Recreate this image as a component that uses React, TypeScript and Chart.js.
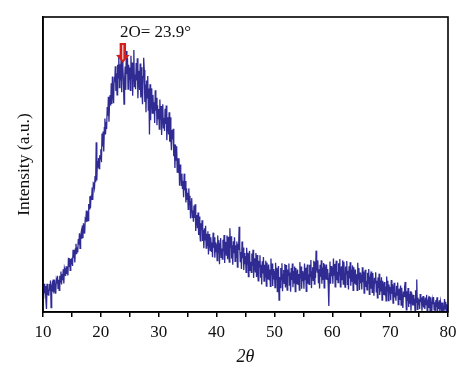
import React, { useEffect, useRef } from "react";
import { Chart, registerables } from "chart.js";

Chart.register(...registerables);

// Sampling grid of the diffractogram (degrees 2θ)
const angleStart = 10;
const angleStep = 0.1;

// Intensity (a.u.), one row per degree (10° ... 79.9°, then 80°)
const intensity: number[] = [
  7.7, 4.5, 9.6, 6.4, 8.8, 4.1, 1.0, 9.6, 5.7, 7.6,
  5.5, 9.5, 7.2, 10.7, 1.5, 8.5, 9.5, 6.9, 11.0, 6.3,
  10.9, 7.8, 6.2, 10.7, 9.7, 12.3, 8.0, 10.9, 7.3, 12.3,
  10.1, 13.7, 9.3, 12.9, 10.8, 14.5, 9.7, 14.8, 13.9, 12.2,
  15.5, 12.9, 15.3, 12.4, 18.4, 15.5, 18.2, 14.1, 18.0, 16.3,
  18.4, 15.6, 21.1, 18.3, 21.1, 16.8, 21.4, 23.1, 19.6, 21.9,
  20.2, 24.7, 22.8, 26.7, 21.6, 25.5, 26.9, 24.8, 29.3, 25.0,
  30.1, 27.6, 26.6, 31.6, 31.2, 34.4, 30.6, 34.1, 31.0, 36.6,
  35.0, 39.2, 35.3, 39.5, 38.0, 42.2, 38.0, 43.7, 43.4, 42.2,
  46.1, 44.0, 57.5, 44.6, 51.2, 48.9, 52.2, 48.6, 53.1, 51.9,
  55.2, 50.8, 60.5, 56.1, 61.2, 54.4, 62.5, 65.6, 60.2, 64.4,
  62.0, 69.5, 66.5, 73.0, 64.5, 71.0, 73.5, 70.0, 77.5, 70.5,
  79.8, 73.8, 70.8, 79.7, 77.9, 83.3, 74.9, 80.9, 73.6, 83.8,
  79.4, 87.2, 76.1, 84.0, 78.5, 86.3, 74.5, 85.8, 83.2, 78.4,
  70.5, 78.4, 83.2, 75.3, 88.5, 80.7, 86.2, 75.6, 83.8, 78.8,
  82.9, 75.1, 86.9, 79.1, 84.6, 73.3, 82.9, 88.8, 76.4, 80.5,
  75.5, 84.4, 78.5, 86.0, 72.5, 79.9, 81.8, 75.3, 84.2, 72.7,
  83.0, 75.0, 70.4, 79.9, 86.2, 82.0, 71.2, 77.1, 67.7, 78.5,
  72.6, 80.0, 68.4, 75.8, 60.2, 77.2, 65.0, 75.8, 72.7, 67.4,
  73.6, 67.2, 71.1, 64.1, 75.2, 68.2, 72.6, 63.3, 70.1, 65.6,
  68.8, 62.0, 72.0, 65.2, 69.8, 60.0, 68.2, 70.4, 62.4, 65.8,
  61.4, 68.9, 63.7, 70.0, 58.2, 64.5, 66.0, 60.2, 67.7, 57.7,
  66.0, 59.0, 54.8, 61.7, 58.6, 62.1, 52.8, 56.9, 48.8, 56.7,
  51.5, 56.2, 47.4, 52.1, 47.3, 52.1, 42.8, 50.0, 47.2, 42.9,
  46.9, 41.7, 44.4, 38.9, 46.9, 41.3, 44.4, 37.1, 41.9, 38.2,
  40.4, 34.8, 41.9, 36.4, 39.4, 31.7, 37.4, 38.6, 32.1, 34.4,
  30.6, 36.1, 31.9, 36.5, 27.5, 32.0, 32.9, 28.4, 33.7, 26.1,
  32.4, 27.1, 24.1, 30.1, 27.9, 31.1, 24.1, 27.8, 21.6, 28.4,
  24.5, 29.2, 21.7, 26.5, 22.6, 27.4, 19.5, 26.4, 24.4, 20.9,
  25.3, 20.6, 23.6, 18.6, 26.9, 21.8, 25.3, 18.4, 23.6, 20.3,
  23.0, 17.4, 25.9, 20.3, 24.3, 16.2, 23.1, 25.1, 18.5, 21.5,
  17.9, 24.5, 20.5, 26.1, 16.6, 22.2, 23.8, 19.3, 25.9, 17.9,
  25.5, 19.9, 16.9, 28.4, 21.8, 25.7, 18.1, 22.6, 16.0, 24.0,
  19.9, 25.3, 17.2, 22.6, 18.5, 23.9, 15.2, 23.1, 21.0, 28.9,
  22.3, 17.1, 20.3, 14.6, 23.9, 18.2, 21.9, 14.2, 20.0, 16.2,
  19.0, 13.4, 21.8, 16.2, 20.1, 12.0, 18.8, 20.7, 14.1, 17.0,
  13.4, 19.8, 15.7, 21.1, 11.5, 16.9, 18.2, 13.6, 20.0, 11.9,
  19.3, 13.7, 10.6, 17.4, 15.3, 19.2, 11.6, 16.0, 9.3, 17.2,
  13.1, 18.6, 10.5, 16.0, 11.9, 17.4, 8.8, 16.8, 14.7, 11.2,
  16.1, 11.0, 14.4, 8.7, 18.1, 12.5, 16.4, 8.8, 14.6, 11.0,
  13.9, 8.3, 16.7, 11.1, 15.0, 6.9, 13.7, 15.6, 4.0, 11.9,
  8.3, 14.9, 10.9, 16.5, 7.0, 12.6, 14.2, 9.7, 16.3, 8.3,
  15.9, 10.4, 7.4, 14.4, 12.4, 16.4, 8.9, 13.4, 6.9, 14.9,
  10.9, 16.4, 8.4, 13.9, 9.9, 15.4, 6.9, 14.9, 12.9, 9.4,
  14.4, 9.4, 12.9, 7.4, 16.9, 11.4, 15.4, 7.9, 13.9, 10.4,
  13.4, 7.9, 16.4, 11.0, 15.0, 7.0, 14.1, 16.1, 9.6, 12.8,
  9.4, 16.0, 12.0, 17.6, 8.1, 13.6, 15.2, 10.7, 17.4, 9.5,
  17.0, 11.5, 20.8, 15.5, 13.5, 17.5, 10.0, 14.5, 8.0, 16.0,
  12.0, 17.5, 9.6, 15.1, 11.1, 16.6, 8.2, 16.2, 14.2, 11.0,
  16.1, 11.1, 14.6, 9.1, 2.0, 13.1, 17.1, 9.6, 15.6, 12.1,
  15.1, 9.6, 18.1, 12.5, 16.3, 8.5, 15.5, 17.4, 10.8, 13.6,
  10.0, 16.5, 12.5, 18.0, 8.5, 14.0, 15.5, 11.0, 17.5, 9.5,
  17.0, 11.5, 8.4, 15.4, 12.9, 17.3, 9.4, 14.0, 7.6, 15.5,
  11.4, 16.9, 8.9, 14.4, 10.3, 15.8, 7.3, 15.2, 13.2, 9.6,
  14.4, 9.4, 12.8, 7.3, 16.7, 11.3, 14.9, 7.5, 13.4, 9.8,
  12.6, 7.6, 15.2, 10.1, 13.7, 6.4, 12.6, 14.3, 8.5, 10.6,
  7.5, 13.3, 9.7, 14.6, 6.0, 11.0, 12.2, 8.1, 13.7, 6.7,
  13.2, 8.2, 5.5, 11.6, 9.9, 13.5, 6.8, 10.6, 4.8, 11.7,
  8.1, 13.0, 5.8, 10.7, 7.0, 11.8, 4.0, 10.6, 8.8, 5.8,
  10.2, 5.6, 8.6, 3.8, 12.0, 7.1, 10.6, 3.9, 9.3, 6.2,
  8.5, 4.0, 10.8, 6.2, 9.4, 3.0, 7.6, 9.9, 4.9, 6.6,
  3.8, 8.9, 5.7, 10.0, 2.5, 6.5, 7.9, 4.1, 9.0, 2.3,
  8.2, 3.7, 1.4, 6.9, 5.2, 8.4, 10.2, 5.9, 0.7, 7.0,
  3.7, 8.1, 1.7, 6.1, 2.8, 7.0, 0.4, 6.7, 5.0, 2.2,
  5.8, 2.2, 4.6, 0.6, 7.4, 3.3, 11.0, 0.9, 4.9, 2.4,
  4.3, 1.0, 6.1, 3.4, 4.9, 0.4, 4.1, 5.4, 1.5, 3.1,
  1.0, 4.9, 2.5, 5.8, 0.2, 3.2, 4.2, 1.4, 5.3, 0.6,
  5.0, 1.7, 0.2, 4.0, 2.7, 5.1, 0.7, 3.3, 0.0, 4.1,
  1.7, 5.0, 0.3, 3.4, 1.0, 4.0, 0.0, 3.6, 2.5, 0.3,
  3.2, 0.4, 2.2, 0.0, 4.4, 1.1, 3.5, 0.0, 2.6, 0.3,
  1.0,
];

const xTickLabels: number[] = [10, 20, 30, 40, 50, 60, 70, 80];

// Annotation
const peakLabel = "2O= 23.9°";
const peakAngle = 23.9;
const arrowAngle = 23.8;
const arrowTop = 91.2;
const arrowHeadStart = 87.1;
const arrowTip = 84.4;
const labelLevel = 94.6;

const SERIF = "'Liberation Serif', 'DejaVu Serif', serif";

const framePlugin = {
  id: "frame",
  afterDatasetsDraw(chart: any) {
    const { ctx, chartArea } = chart;
    ctx.save();
    ctx.strokeStyle = "#000";
    ctx.lineWidth = 1.6;
    ctx.strokeRect(chartArea.left, chartArea.top, chartArea.right - chartArea.left, chartArea.bottom - chartArea.top);
    ctx.restore();
  },
};

const annotationPlugin = {
  id: "peakNote",
  afterDraw(chart: any) {
    const { ctx, scales } = chart;
    const xs = scales.x;
    const ys = scales.y;
    const ax = xs.getPixelForValue(arrowAngle);
    const yTop = ys.getPixelForValue(arrowTop);
    const yHead = ys.getPixelForValue(arrowHeadStart);
    const yTip = ys.getPixelForValue(arrowTip);
    ctx.save();
    ctx.fillStyle = "#d41d1d";
    ctx.beginPath();
    ctx.moveTo(ax - 3.2, yTop);
    ctx.lineTo(ax + 3.2, yTop);
    ctx.lineTo(ax + 3.2, yHead);
    ctx.lineTo(ax + 6.8, yHead);
    ctx.lineTo(ax, yTip);
    ctx.lineTo(ax - 6.8, yHead);
    ctx.lineTo(ax - 3.2, yHead);
    ctx.closePath();
    ctx.fill();
    ctx.strokeStyle = "#ffffff";
    ctx.lineWidth = 1;
    ctx.beginPath();
    ctx.moveTo(ax, yTop + 2);
    ctx.lineTo(ax, yTip - 3.5);
    ctx.stroke();
    ctx.fillStyle = "#111";
    ctx.font = `17px ${SERIF}`;
    ctx.textAlign = "left";
    ctx.textBaseline = "middle";
    ctx.fillText(peakLabel, xs.getPixelForValue(peakAngle) - 3.5, ys.getPixelForValue(labelLevel));
    ctx.restore();
  },
};

export default function App() {
  const ref = useRef<HTMLCanvasElement | null>(null);

  useEffect(() => {
    if (!ref.current) return;
    const points = intensity.map((v, i) => ({ x: angleStart + i * angleStep, y: v }));
    const chart = new Chart(ref.current, {
      type: "line",
      data: {
        datasets: [
          {
            data: points,
            borderColor: "#2f2b92",
            borderWidth: 1.3,
            pointRadius: 0,
            tension: 0,
            fill: false,
          },
        ],
      },
      options: {
        animation: false,
        responsive: false,
        events: [],
        layout: { padding: { left: 0, right: 26, top: 17, bottom: 0 } },
        plugins: { legend: { display: false }, tooltip: { enabled: false } },
        scales: {
          x: {
            type: "linear",
            min: 10,
            max: 80,
            afterFit(scale: any) {
              scale.height = 67;
            },
            border: { display: true, color: "#000", width: 1.6 },
            grid: {
              display: true,
              drawOnChartArea: false,
              drawTicks: true,
              tickLength: 5,
              color: "#000",
              lineWidth: 1.5,
            },
            ticks: {
              stepSize: 5,
              autoSkip: false,
              maxRotation: 0,
              padding: 5,
              color: "#111",
              font: { family: SERIF, size: 17 },
              callback: (v: any) => (xTickLabels.includes(Number(v)) ? String(v) : ""),
            },
            title: {
              display: true,
              text: "2θ",
              color: "#111",
              font: { family: SERIF, size: 18, style: "italic" },
              padding: { top: 0, bottom: 11 },
            },
          },
          y: {
            min: 0,
            max: 100,
            afterFit(scale: any) {
              scale.width = 43;
            },
            border: { display: true, color: "#000", width: 1.6 },
            grid: { display: false },
            ticks: { display: false },
            title: {
              display: true,
              text: "Intensity (a.u.)",
              color: "#111",
              font: { family: SERIF, size: 17.5 },
              padding: { top: 13.5, bottom: 0 },
            },
          },
        },
      },
      plugins: [framePlugin, annotationPlugin],
    });
    return () => chart.destroy();
  }, []);

  return (
    <div style={{ position: "absolute", left: 0, top: 0, width: 474, height: 379, background: "#fff" }}>
      <canvas ref={ref} width={474} height={379} />
    </div>
  );
}
